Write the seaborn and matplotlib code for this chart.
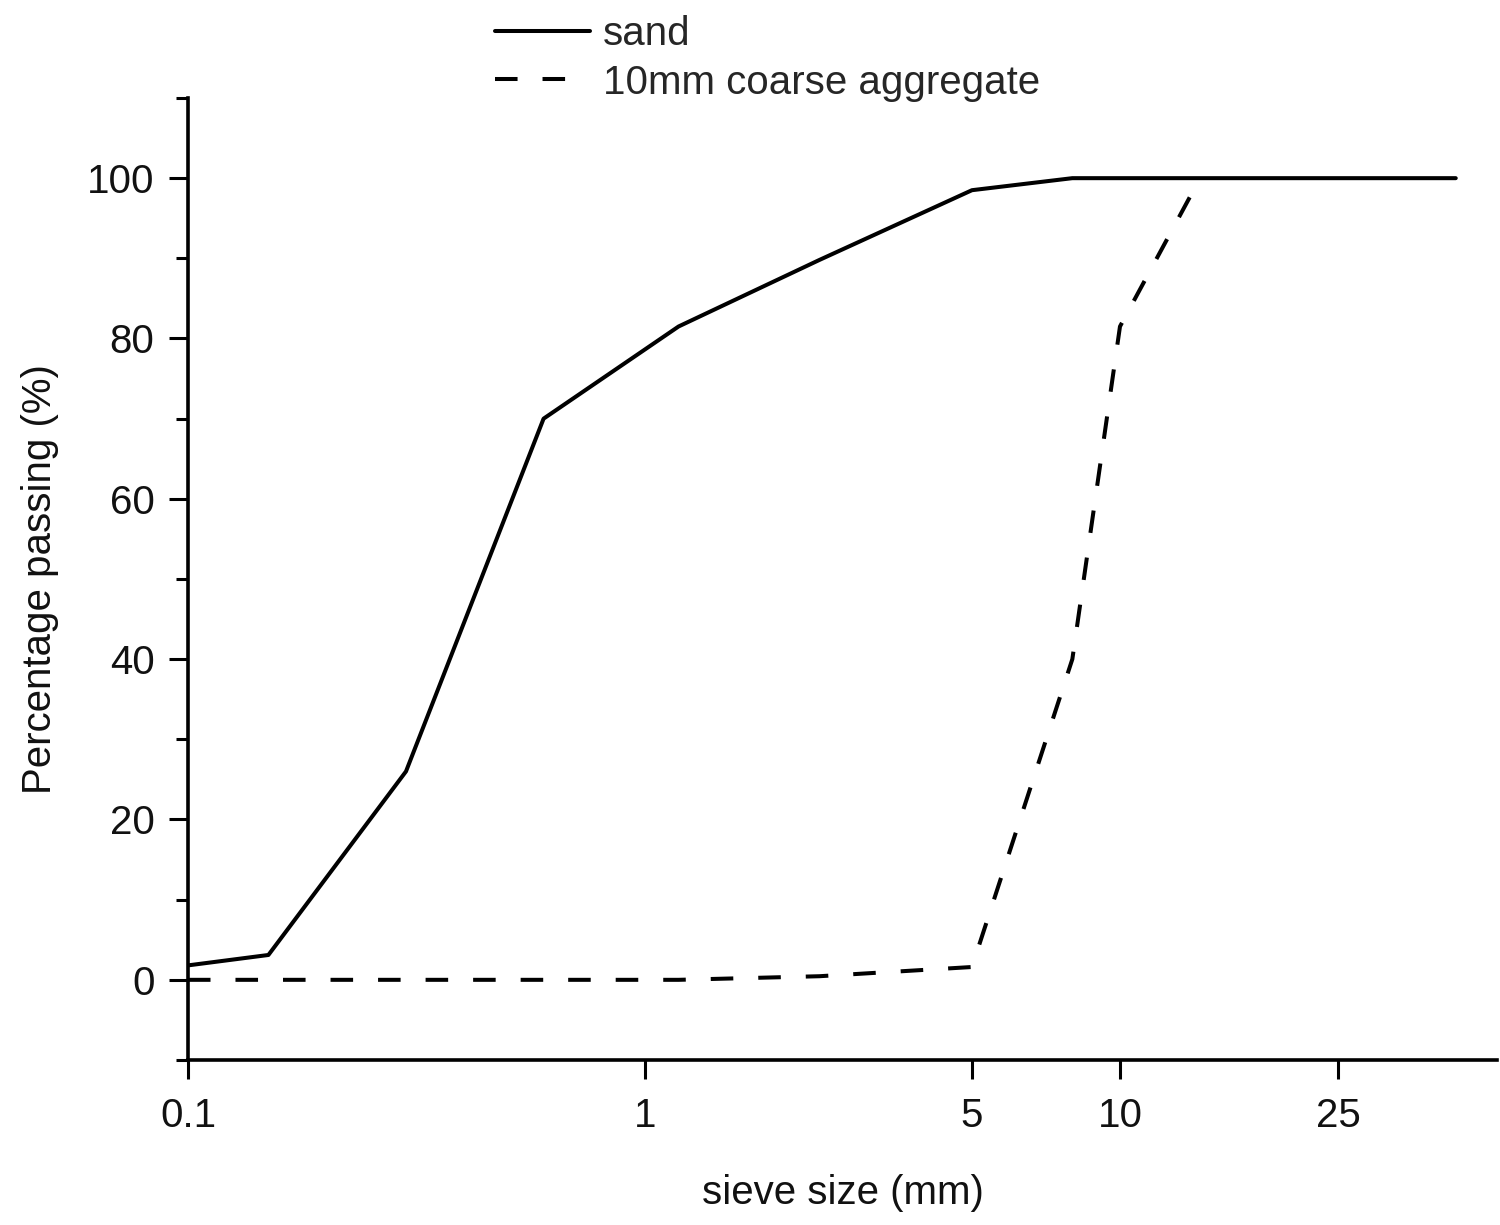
import numpy as np
import pandas as pd
import matplotlib
matplotlib.use("Agg")
import matplotlib.pyplot as plt
import matplotlib.ticker as mticker
import seaborn as sns

sns.set_theme(style="white")
plt.rcParams["font.family"] = ["Liberation Sans", "DejaVu Sans"]
plt.rcParams["figure.dpi"] = 100

# grading data (sieve size in mm, % passing)
sand_size = [0.1, 0.15, 0.3, 0.6, 1.18, 2.36, 5, 8, 41]
sand_pass = [1.8, 3.1, 26, 70, 81.5, 89.8, 98.5, 100, 100]

coarse_size = [0.1, 0.15, 0.3, 0.6, 1.18, 2.36, 5, 8, 10, 14]
coarse_pass = [0, 0, 0, 0, 0, 0.45, 1.6, 40, 81.5, 100]

labels = ["sand", "10mm coarse aggregate"]
x_ticks = [0.1, 1, 5, 10, 25]
x_tick_labels = ["0.1", "1", "5", "10", "25"]
y_ticks = [0, 20, 40, 60, 80, 100]

df = pd.concat([
    pd.DataFrame({"size": sand_size, "passing": sand_pass, "material": labels[0]}),
    pd.DataFrame({"size": coarse_size, "passing": coarse_pass, "material": labels[1]}),
])

# the original x axis is log-like but stretched towards the coarse end;
# piecewise-log scale through the tick marks reproduces it
_log_knots = np.log10([0.01, 0.1, 1, 5, 10, 25, 100])
_pos_knots = np.array([-269, 188, 645, 972, 1120, 1338, 1668], dtype=float)


def _fwd(x):
    x = np.asarray(x, dtype=float)
    return np.interp(np.log10(np.clip(x, 1e-6, None)), _log_knots, _pos_knots)


def _inv(p):
    return 10 ** np.interp(np.asarray(p, dtype=float), _pos_knots, _log_knots)


fig = plt.figure(figsize=(15, 12.25))
ax = fig.add_axes([0.1253, 0.1347, 0.8727, 0.7853])
ax.set_xscale("function", functions=(_fwd, _inv))

sns.lineplot(
    data=df, x="size", y="passing", hue="material", style="material",
    hue_order=labels, style_order=labels,
    palette={labels[0]: "black", labels[1]: "black"},
    dashes={labels[0]: "", labels[1]: (5.6, 6.2)},
    linewidth=2.9, errorbar=None, legend=False, ax=ax,
)

ax.set_xlim(0.1, _inv(1497))
ax.set_ylim(-10, 110)
ax.xaxis.set_major_locator(mticker.FixedLocator(x_ticks))
ax.xaxis.set_major_formatter(mticker.FixedFormatter(x_tick_labels))
ax.xaxis.set_minor_locator(mticker.NullLocator())
ax.yaxis.set_major_locator(mticker.FixedLocator(y_ticks))
ax.yaxis.set_minor_locator(mticker.MultipleLocator(20, offset=10))

for side in ["top", "right"]:
    ax.spines[side].set_visible(False)
for side in ["left", "bottom"]:
    ax.spines[side].set_linewidth(2.6)
    ax.spines[side].set_color("black")

ax.tick_params(axis="both", which="major", direction="out", length=14,
               width=2.2, color="black", labelsize=29, labelcolor="#111111")
ax.tick_params(axis="x", which="major", pad=13, bottom=True)
ax.tick_params(axis="y", which="major", pad=10, left=True)
ax.tick_params(axis="y", which="minor", direction="out", length=8.5,
               width=2.2, color="black", left=True)

ax.set_xlabel("sieve size (mm)", fontsize=29, color="#111111", labelpad=28)
ax.set_ylabel("Percentage passing (%)", fontsize=29, color="#111111", labelpad=20)
ax.grid(False)

handles = ax.get_lines()[:2]
fig.legend(handles, labels, loc="upper left", bbox_to_anchor=(0.33, 0.988),
           frameon=False, fontsize=29, borderpad=0, borderaxespad=0,
           handlelength=2.35, handletextpad=0.32, labelspacing=0.27)

plt.savefig("out.png", dpi=100)
plt.close()
